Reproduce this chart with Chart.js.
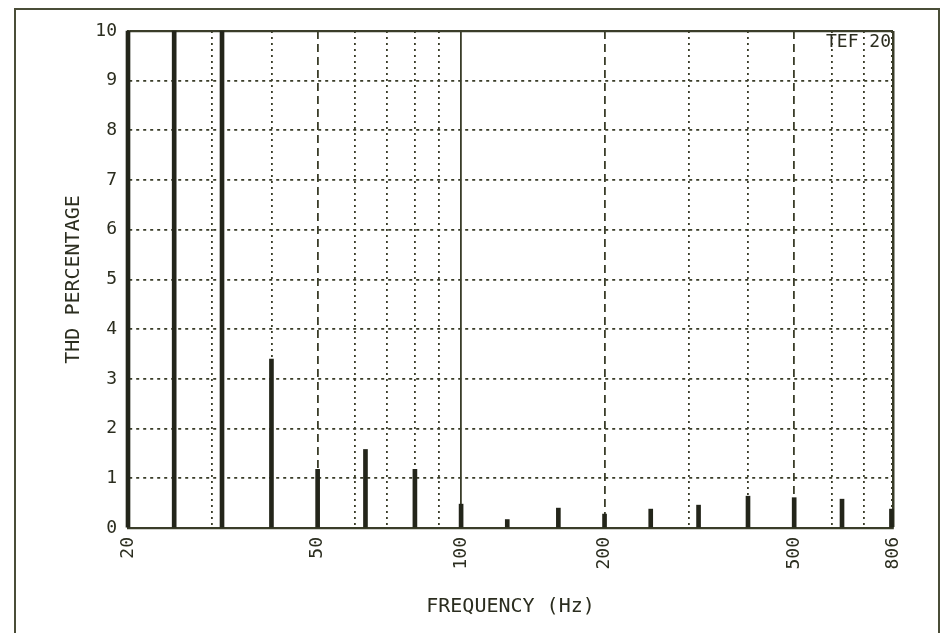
<!DOCTYPE html>
<html>
<head>
<meta charset="utf-8">
<title>THD Percentage vs Frequency</title>
<script src="https://cdn.jsdelivr.net/npm/chart.js@4.4.1/dist/chart.umd.min.js"></script>
<style>
    html, body { margin: 0; padding: 0; background: #fff; }
    #wrap { position: relative; width: 951px; height: 633px; overflow: hidden; }
    #frame {
        position: absolute; left: 14px; top: 8px; width: 922px; height: 640px;
        border: 2px solid #4a4d38; border-bottom: none; pointer-events: none;
    }
</style>
</head>
<body>
<div id="wrap">
    <canvas id="thdChart"></canvas>
    <div id="frame"></div>
</div>
<script>
// ── Data ─────────────────────────────────────────────────────────────────────

const freqs = [20, 25, 31.5, 40, 50, 63, 80, 100, 125, 160, 200, 250, 315, 400, 500, 630, 800];
const thd   = [10, 10, 10, 3.4, 1.18, 1.58, 1.18, 0.48, 0.17, 0.4, 0.28, 0.38, 0.46, 0.64, 0.61, 0.58, 0.38];

const gridFreqs   = [20, 30, 40, 50, 60, 70, 80, 90, 100, 200, 300, 400, 500, 600, 700, 800, 806];
const labelFreqs  = [20, 50, 100, 200, 500, 806];
const dashedFreqs = [50, 200, 500];
const solidFreqs  = [20, 100, 806];

// ── Styling helpers ──────────────────────────────────────────────────────────

const ink  = '#2b2d1f';
const grid = '#3a3d29';
const mono = '"DejaVu Sans Mono", monospace';

function xDash(c) {
    const v = c.tick && c.tick.value;
    if (v === undefined || solidFreqs.includes(v)) return [];
    if (dashedFreqs.includes(v)) return [8, 5];
    return [2, 4];
}

function yDash(c) {
    const v = c.tick && c.tick.value;
    if (v === undefined || v === 0 || v === 10) return [];
    return [3, 4];
}

// "TEF 20" tag in the upper right corner of the plot
const tefLabel = {
    id: 'tefLabel',
    afterDraw(chart) {
        const { ctx, chartArea } = chart;
        ctx.save();
        ctx.font = '18px ' + mono;
        ctx.fillStyle = ink;
        ctx.textAlign = 'right';
        ctx.textBaseline = 'top';
        ctx.fillText('TEF 20', chartArea.right - 2, chartArea.top + 2);
        ctx.restore();
    }
};

// ── Chart ────────────────────────────────────────────────────────────────────

new Chart(document.getElementById('thdChart').getContext('2d'), {
    type: 'bar',
    data: {
        datasets: [{
            label: 'THD %',
            data: freqs.map((f, i) => ({ x: f, y: thd[i] })),
            backgroundColor: '#23251a',
            barThickness: 4,
            clip: false,
        }]
    },
    options: {
        responsive: true,
        maintainAspectRatio: false,
        animation: false,
        layout: { padding: { top: 31, right: 58, left: 0, bottom: 0 } },
        plugins: { legend: { display: false }, tooltip: { enabled: false } },
        scales: {
            x: {
                type: 'logarithmic',
                min: 20,
                max: 806,
                offset: false,
                afterBuildTicks: s => { s.ticks = gridFreqs.map(v => ({ value: v })); },
                afterFit: s => { s.height = 105; },
                ticks: {
                    autoSkip: false,
                    minRotation: 90,
                    maxRotation: 90,
                    padding: 9,
                    color: ink,
                    font: { family: mono, size: 18 },
                    callback: v => labelFreqs.includes(v) ? String(v) : '',
                },
                grid: {
                    offset: false,
                    drawTicks: false,
                    color: grid,
                    lineWidth: c => (c.tick && c.tick.value === 806) ? 2.5 : 1.8,
                },
                border: { display: true, color: grid, width: 2.2, dash: xDash },
                title: {
                    display: true,
                    text: 'FREQUENCY (Hz)',
                    color: ink,
                    font: { family: mono, size: 20 },
                    padding: { top: 0, bottom: 14 },
                }
            },
            y: {
                min: 0,
                max: 10,
                afterFit: s => { s.width = 128; },
                ticks: {
                    stepSize: 1,
                    padding: 11,
                    color: ink,
                    font: { family: mono, size: 18 },
                },
                grid: {
                    drawTicks: false,
                    color: grid,
                    lineWidth: c => (c.tick && c.tick.value === 10) ? 2.2 : 1.8,
                },
                border: { display: true, color: grid, width: 2.2, dash: yDash },
                title: {
                    display: true,
                    text: 'THD PERCENTAGE',
                    color: ink,
                    font: { family: mono, size: 20 },
                    padding: { top: 62, bottom: 0 },
                }
            }
        }
    },
    plugins: [tefLabel]
});
</script>
</body>
</html>
